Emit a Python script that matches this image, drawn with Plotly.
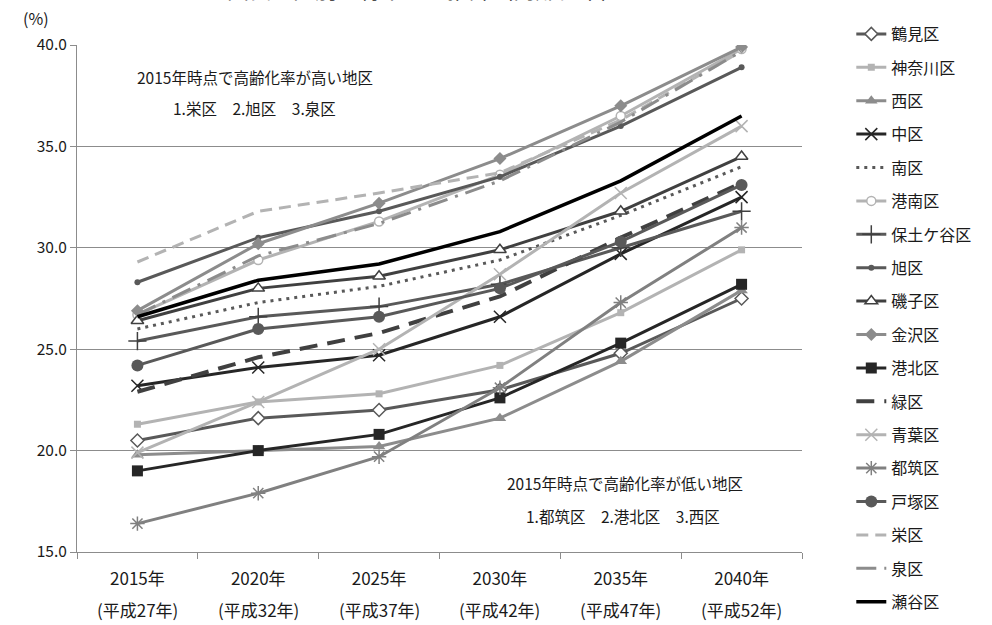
import plotly.graph_objects as go

years = ["2015年", "2020年", "2025年", "2030年", "2035年", "2040年"]
eras = ["(平成27年)", "(平成32年)", "(平成37年)", "(平成42年)", "(平成47年)", "(平成52年)"]
y_ticks = [15, 20, 25, 30, 35, 40]

tsurumi = [20.5, 21.6, 22.0, 23.0, 24.8, 27.5]
kanagawa = [21.3, 22.4, 22.8, 24.2, 26.8, 29.9]
nishi = [19.8, 20.0, 20.2, 21.6, 24.4, 27.9]
naka = [23.2, 24.1, 24.7, 26.6, 29.7, 32.5]
minami = [26.0, 27.3, 28.1, 29.4, 31.6, 34.0]
konan = [26.7, 29.4, 31.3, 33.6, 36.5, 39.8]
hodogaya = [25.4, 26.6, 27.1, 28.2, 30.0, 31.8]
asahi = [28.3, 30.5, 31.8, 33.5, 36.0, 38.9]
isogo = [26.4, 28.0, 28.6, 29.9, 31.8, 34.5]
kanazawa = [26.9, 30.2, 32.2, 34.4, 37.0, 39.9]
kohoku = [19.0, 20.0, 20.8, 22.6, 25.3, 28.2]
midori = [22.9, 24.6, 25.8, 27.6, 30.5, 33.2]
aoba = [19.9, 22.4, 25.0, 28.7, 32.7, 36.0]
tsuzuki = [16.4, 17.9, 19.7, 23.1, 27.3, 31.0]
totsuka = [24.2, 26.0, 26.6, 28.0, 30.3, 33.1]
sakae = [29.3, 31.8, 32.7, 33.7, 36.3, 39.7]
izumi = [26.7, 29.6, 31.2, 33.3, 36.2, 39.7]
seya = [26.6, 28.4, 29.2, 30.8, 33.3, 36.5]

series = [
    ("鶴見区", tsurumi, dict(color="#595959", width=3), dict(symbol="diamond", size=10, color="white", line=dict(color="#595959", width=1.5))),
    ("神奈川区", kanagawa, dict(color="#b3b3b3", width=3), dict(symbol="square", size=7, color="#b3b3b3")),
    ("西区", nishi, dict(color="#8c8c8c", width=3), dict(symbol="triangle-up", size=11, color="#8c8c8c")),
    ("中区", naka, dict(color="#262626", width=3), dict(symbol="x-thin-open", size=12, color="#262626", line=dict(color="#262626", width=1.5))),
    ("南区", minami, dict(color="#595959", width=3, dash="3px,5px"), None),
    ("港南区", konan, dict(color="#b3b3b3", width=3), dict(symbol="circle", size=9, color="white", line=dict(color="#b3b3b3", width=1.5))),
    ("保土ケ谷区", hodogaya, dict(color="#595959", width=3), dict(symbol="cross-thin-open", size=13, color="#404040", line=dict(color="#404040", width=1.5))),
    ("旭区", asahi, dict(color="#595959", width=3), dict(symbol="circle", size=6, color="#595959")),
    ("磯子区", isogo, dict(color="#404040", width=3), dict(symbol="triangle-up", size=11, color="white", line=dict(color="#404040", width=1.5))),
    ("金沢区", kanazawa, dict(color="#8c8c8c", width=3), dict(symbol="diamond", size=10, color="#8c8c8c")),
    ("港北区", kohoku, dict(color="#262626", width=3), dict(symbol="square", size=11, color="#262626")),
    ("緑区", midori, dict(color="#404040", width=4, dash="18px,10px"), None),
    ("青葉区", aoba, dict(color="#b3b3b3", width=3), dict(symbol="x-thin-open", size=12, color="#b3b3b3", line=dict(color="#b3b3b3", width=1.5))),
    ("都筑区", tsuzuki, dict(color="#808080", width=3), dict(symbol="asterisk-open", size=12, color="#808080", line=dict(color="#808080", width=1.5))),
    ("戸塚区", totsuka, dict(color="#595959", width=3), dict(symbol="circle", size=12, color="#595959")),
    ("栄区", sakae, dict(color="#b3b3b3", width=3, dash="12px,7px"), None),
    ("泉区", izumi, dict(color="#8c8c8c", width=3, dash="20px,8px,3px,8px"), None),
    ("瀬谷区", seya, dict(color="#000000", width=3.5), None),
]

fig = go.Figure()
for i, (name, vals, line, marker) in enumerate(series):
    kw = dict(x=years, y=vals, name=name, line=line, legendgroup=f"g{i}")
    if marker is None:
        kw["mode"] = "lines"
    else:
        kw["mode"] = "lines+markers"
        kw["marker"] = marker
    fig.add_trace(go.Scatter(**kw))

font_family = "Noto Sans CJK JP, Noto Sans, sans-serif"
txt = "#1a1a1a"

def note(text, x, y, size=15.5, **extra):
    d = dict(text=text, x=x, y=y, xref="paper", yref="paper", xanchor="center",
             yanchor="middle", showarrow=False, font=dict(size=size, color=txt))
    d.update(extra)
    return d

annotations = [
    note("2015年時点で高齢化率が高い地区", 0.245, 0.936),
    note("1.栄区　2.旭区　3.泉区", 0.245, 0.876),
    note("2015年時点で高齢化率が低い地区", 0.756, 0.136),
    note("1.都筑区　2.港北区　3.西区", 0.753, 0.071),
    note("(%)", -0.057, 1.053, size=16),
    note("図表　区別の将来人口推計（高齢化率）", 0.48, 1.0765, size=22, yanchor="bottom"),
]
for cat, era in zip(years, eras):
    annotations.append(dict(text=era, x=cat, xref="x", y=0, yref="paper", yanchor="middle",
                            xanchor="center", yshift=-57, showarrow=False,
                            font=dict(size=17, color=txt)))

fig.update_layout(
    width=992, height=625,
    margin=dict(l=77, r=190, t=45, b=73, autoexpand=False),
    paper_bgcolor="white", plot_bgcolor="white",
    font=dict(family=font_family, size=15, color=txt),
    showlegend=True,
    legend=dict(x=1.068, xanchor="left", yref="container", y=0.9728, yanchor="top",
                maxheight=620, tracegroupgap=9.6,
                font=dict(size=16), bgcolor="rgba(0,0,0,0)"),
    annotations=annotations,
)
fig.update_xaxes(type="category", showgrid=False, showline=True, linecolor="#8c8c8c",
                 ticks="outside", tickson="boundaries", ticklen=6, tickcolor="#8c8c8c",
                 tickfont=dict(size=17), ticklabelstandoff=12, range=[-0.5, 5.5],
                 automargin=False)
fig.update_yaxes(range=[15, 40], tickvals=y_ticks, tickformat=".1f", showgrid=True,
                 gridcolor="#8c8c8c", gridwidth=1, showline=True, linecolor="#8c8c8c",
                 ticks="outside", ticklen=6, tickcolor="#8c8c8c", zeroline=False,
                 tickfont=dict(size=15.5), automargin=False)

fig.write_html("out.html")
